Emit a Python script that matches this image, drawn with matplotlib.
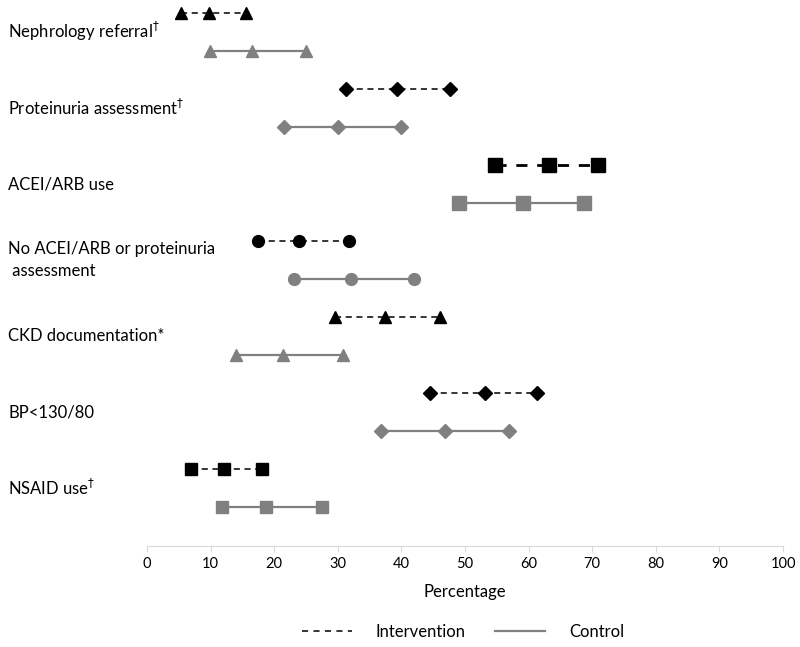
import matplotlib
matplotlib.use("Agg")
import matplotlib.pyplot as plt
from matplotlib.lines import Line2D
from matplotlib.transforms import blended_transform_factory

categories = ["Nephrology referral$^{\\dagger}$", "Proteinuria assessment$^{\\dagger}$", "ACEI/ARB use",
              "No ACEI/ARB or proteinuria\n assessment", "CKD documentation*", "BP<130/80",
              "NSAID use$^{\\dagger}$"]
intervention = [[5.3, 9.7, 15.6], [31.3, 39.3, 47.6], [54.7, 63.2, 70.9], [17.5, 23.9, 31.8],
                [29.6, 37.4, 46.1], [44.5, 53.1, 61.3], [6.9, 12.1, 18.1]]
control = [[9.9, 16.5, 25.0], [21.5, 30.0, 39.9], [49.1, 59.1, 68.7], [23.1, 32.1, 42.0],
           [14.0, 21.4, 30.8], [36.8, 46.9, 56.9], [11.8, 18.7, 27.5]]
xticks = list(range(0, 101, 10))

markers = ["^", "D", "s", "o", "^", "D", "s"]
msizes = [8, 7, 9.5, 8.5, 9, 7, 9]
int_lw = [1.1, 1.1, 2.0, 1.1, 1.1, 1.1, 1.1]

plt.rcParams['font.family'] = ['Lato', 'DejaVu Sans']
plt.rcParams['mathtext.fontset'] = 'dejavusans'

fig = plt.figure(figsize=(8.0, 6.47), dpi=100)
ax = fig.add_axes([147/800, (647-546)/647, 636/800, 546/647])

gray = "#808080"
lab_tr = blended_transform_factory(fig.transFigure, ax.transData)
for i in range(len(categories)):
    yi = i - 0.25
    yc = i + 0.25
    ls = (0, (4, 3)) if int_lw[i] < 1.5 else (0, (4, 3.5))
    ax.plot(intervention[i], [yi]*3, color="black", linestyle=ls,
            lw=int_lw[i], marker=markers[i], ms=msizes[i], mfc="black", mec="black", clip_on=False)
    ax.plot(control[i], [yc]*3, color=gray, linestyle="-", lw=1.6,
            marker=markers[i], ms=msizes[i], mfc=gray, mec=gray, clip_on=False)
    ax.text(8/800, i, categories[i], transform=lab_tr,
            ha="left", va="center", fontsize=12, linespacing=1.45)

ax.set_xlim(0, 100)
ax.set_ylim(6.76, -0.42)
ax.set_xticks(xticks)
ax.set_xticklabels([str(t) for t in xticks], fontsize=10.5)
ax.set_yticks([])
for s in ["top", "right", "left"]:
    ax.spines[s].set_visible(False)
ax.spines["bottom"].set_color("#d9d9d9")
ax.tick_params(axis="x", direction="out", length=4, color="#d9d9d9", pad=4)
ax.set_xlabel("Percentage", fontsize=12, labelpad=9)

handles = [Line2D([], [], color="black", linestyle=(0, (4, 3.5)), lw=1.1),
           Line2D([], [], color=gray, linestyle="-", lw=1.6)]
fig.legend(handles, ["Intervention", "Control"], loc="center", ncol=2, frameon=False,
           bbox_to_anchor=(463/800, 1 - 632/647), fontsize=12, handlelength=3.0, columnspacing=1.8,
           handletextpad=1.4)

fig.savefig("out.png", dpi=100)
